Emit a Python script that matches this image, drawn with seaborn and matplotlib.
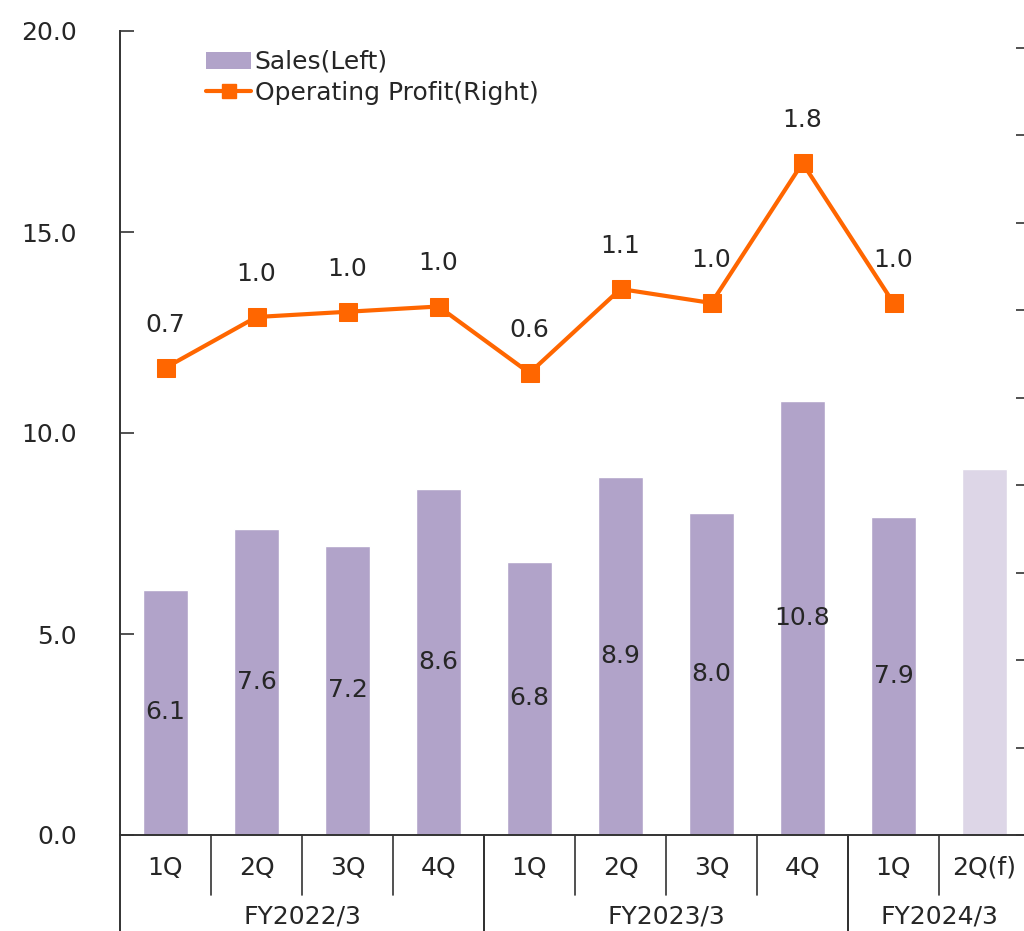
#relevant imports
import numpy as np
import pandas as pd
import matplotlib
matplotlib.use("Agg")
import matplotlib.pyplot as plt
import seaborn as sns
from matplotlib.patches import Patch
from matplotlib.lines import Line2D

#chart data
quarters = ['1Q', '2Q', '3Q', '4Q', '1Q', '2Q', '3Q', '4Q', '1Q', '2Q(f)']
years = ['FY2022/3', 'FY2023/3', 'FY2024/3']
year_sizes = [4, 4, 2]
sales = [6.1, 7.6, 7.2, 8.6, 6.8, 8.9, 8.0, 10.8, 7.9, 9.1]
op_profit = [0.67, 0.96, 0.99, 1.02, 0.64, 1.12, 1.04, 1.84, 1.04]
left_ticks = [0, 5, 10, 15, 20]
right_ticks = [-2.0, -1.5, -1.0, -0.5, 0.0, 0.5, 1.0, 1.5, 2.0, 2.5]

#colours
bar_col = '#B1A3C9'
fcst_col = '#DDD6E7'
line_col = '#FF6600'
txt_col = '#262626'
fs = 18

sns.set_theme(style="white")
plt.rcParams['font.family'] = ['DejaVu Sans']

#unique category ids so repeated quarter names don't collapse
ids = [f'{i}_{q}' for i, q in enumerate(quarters)]
df = pd.DataFrame({'cat': ids, 'sales': sales})
pal = [bar_col] * (len(ids) - 1) + [fcst_col]

fig = plt.figure(figsize=(10.24, 9.31), dpi=100)
ax = fig.add_axes([120/1024, 96/931, 910/1024, 804/931])

sns.barplot(data=df, x='cat', y='sales', hue='cat', palette=pal,
            width=0.5, legend=False, ax=ax, saturation=1)
ax.set_xlim(-0.5, len(ids) - 0.5)
ax.set_ylim(0, 20)
ax.set_yticks(left_ticks)
ax.set_yticklabels([f'{t:.1f}' for t in left_ticks], fontsize=fs, color=txt_col)
ax.tick_params(axis='y', direction='in', length=10, width=1.2, color='#333333', pad=31, left=True)
ax.set_xticks(range(len(ids)))
ax.set_xticklabels(quarters, fontsize=fs, color=txt_col)
ax.tick_params(axis='x', length=0, pad=15)
ax.set_xlabel(None)
ax.set_ylabel(None)
for s in ['top', 'right']:
    ax.spines[s].set_visible(False)
for s in ['left', 'bottom']:
    ax.spines[s].set_color('#333333')
    ax.spines[s].set_linewidth(1.4)

#bar value labels (no label on the forecast bar)
for c in ax.containers[:len(sales) - 1]:
    ax.bar_label(c, fmt='%.1f', label_type='center', fontsize=fs, color=txt_col)

#second axis for operating profit
ax2 = ax.twinx()
xpos = np.arange(len(op_profit))
sns.lineplot(x=xpos, y=op_profit, ax=ax2, color=line_col, linewidth=3,
             marker='s', markersize=13.5, markeredgecolor=line_col)
ax2.set_ylim(-2.0, -2.0 + 804/175)
ax2.set_yticks(right_ticks)
ax2.set_yticklabels([])
ax2.tick_params(axis='y', direction='in', length=10, width=1.2, color='#333333', right=True)
for s in ['top', 'left', 'bottom']:
    ax2.spines[s].set_visible(False)
ax2.spines['right'].set_color('#333333')
ax2.set_ylabel(None)
for x, v in zip(xpos, op_profit):
    ax2.annotate(f'{v:.1f}', (x, v), xytext=(0, 31), textcoords='offset points',
                 ha='center', va='center', fontsize=fs, color=txt_col)

#category axis grid (quarter and year separators)
trans = ax.get_xaxis_transform()
for k in range(1, len(ids)):
    ax.plot([k - 0.5, k - 0.5], [0, -0.075], transform=trans, color='#333333',
            lw=1.2, clip_on=False)
start = 0
for yr, n in zip(years, year_sizes):
    for xb in [start - 0.5, start + n - 0.5]:
        ax.plot([xb, xb], [0, -0.13], transform=trans, color='#333333',
                lw=1.4, clip_on=False)
    ax.text(start + (n - 1) / 2, -0.101, yr, transform=trans, ha='center', va='center',
            fontsize=fs, color=txt_col)
    start += n

#legend
handles = [Patch(facecolor=bar_col, edgecolor='none'),
           Line2D([0], [0], color=line_col, lw=3, marker='s', markersize=10)]
fig.legend(handles, ['Sales(Left)', 'Operating Profit(Right)'], loc='upper left',
           bbox_to_anchor=(196/1024, 1 - 40/931), frameon=False, fontsize=fs,
           handlelength=1.8, handletextpad=0.15, labelspacing=0.28, borderaxespad=0)

fig.savefig('out.png', dpi=100)
